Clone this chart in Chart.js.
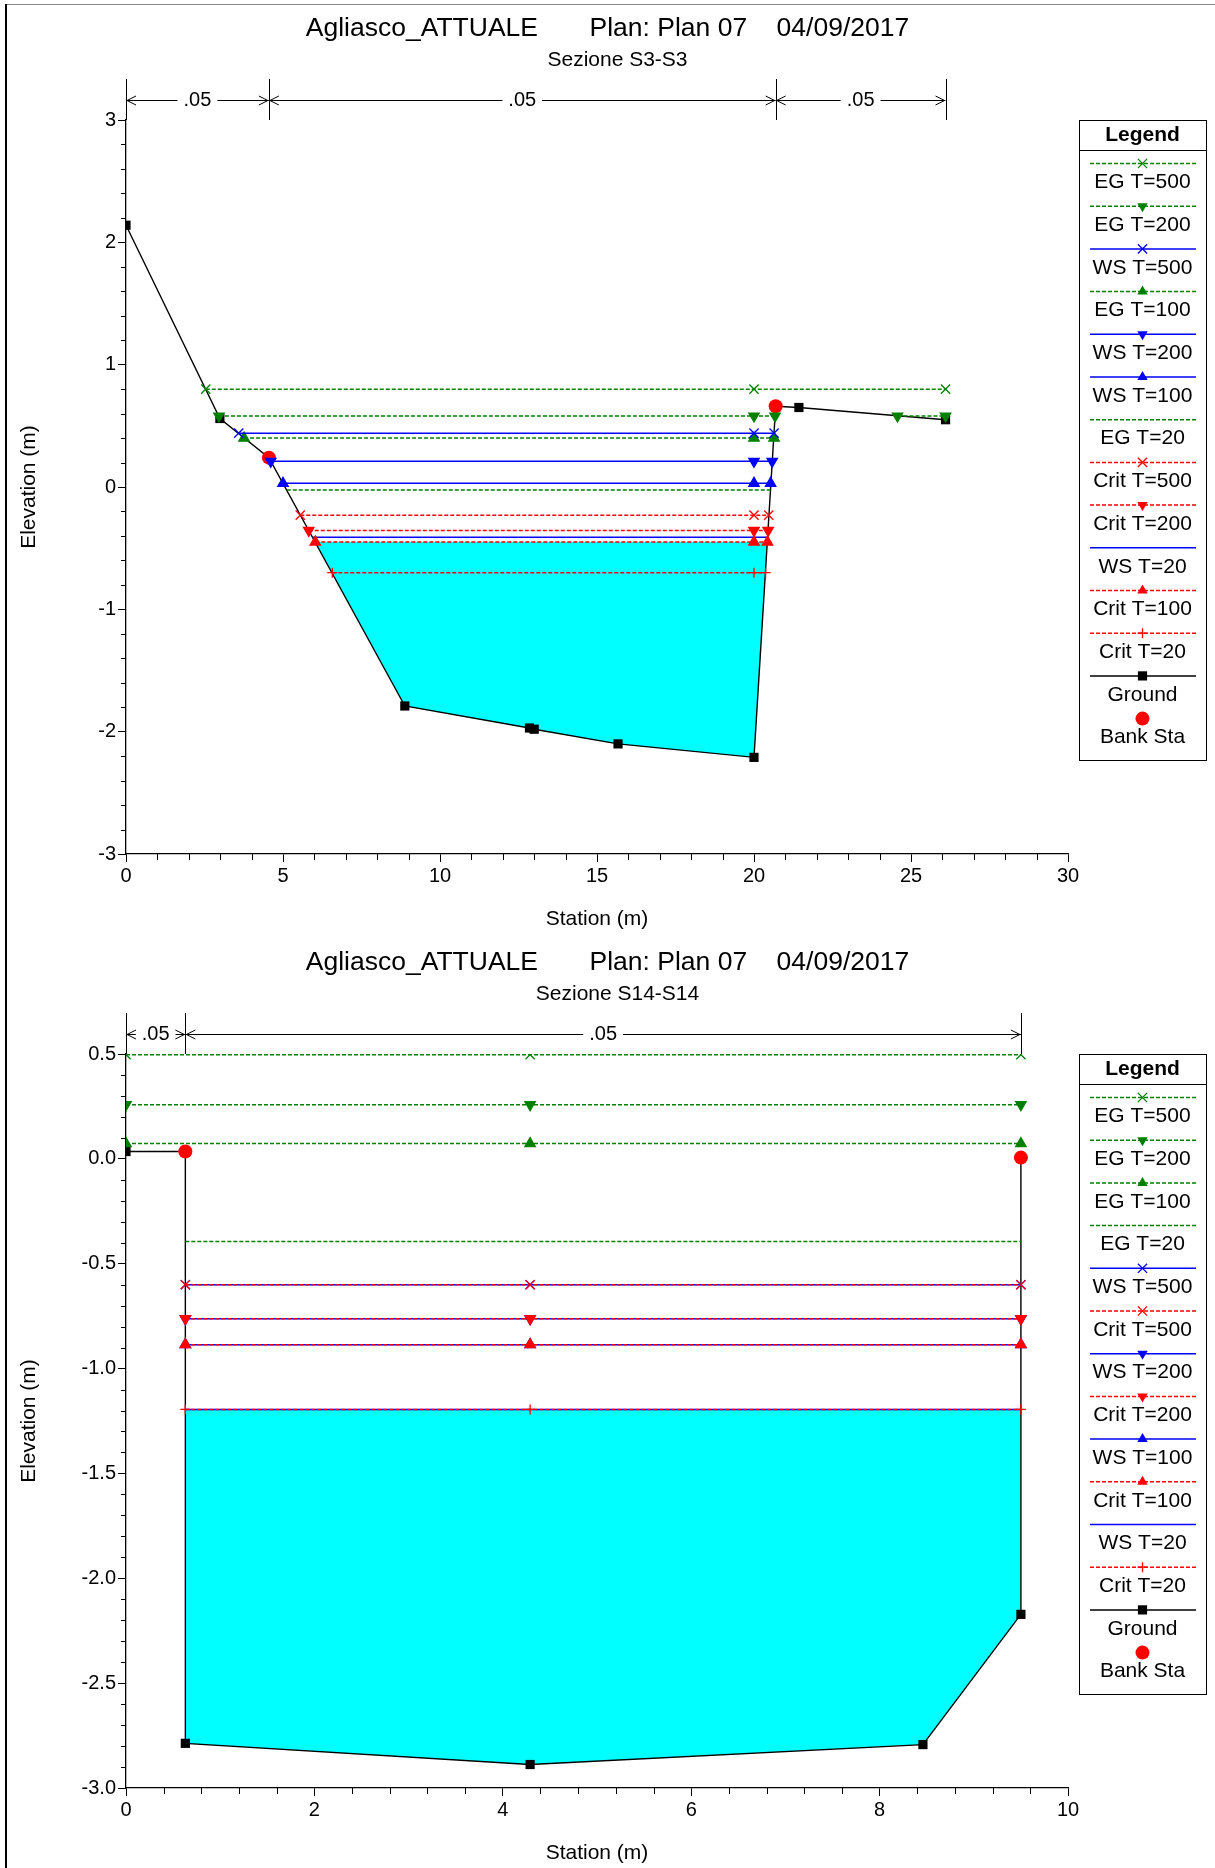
<!DOCTYPE html>
<html>
<head>
<meta charset="utf-8">
<title>Agliasco_ATTUALE - Sezioni S3-S3 e S14-S14</title>
<script src="https://cdn.jsdelivr.net/npm/chart.js@4.4.1/dist/chart.umd.min.js"></script>
<style>
  html, body { margin: 0; padding: 0; background: #fff; }
  body { width: 1215px; height: 1868px; position: relative; overflow: hidden; }
  .pane { position: absolute; left: 0; width: 1215px; height: 934px; }
  #paneTop { top: 0; }
  #paneBottom { top: 934px; }
  .edgeLeft { position: absolute; left: 5px; top: 4px; width: 2px; height: 1864px; background: #000; }
  .edgeTop { position: absolute; left: 5px; top: 4px; width: 1210px; height: 1px; background: #888; }
</style>
</head>
<body>
<div class="pane" id="paneTop"><canvas id="chartS3" width="1215" height="934"></canvas></div>
<div class="pane" id="paneBottom"><canvas id="chartS14" width="1215" height="934"></canvas></div>
<div class="edgeTop"></div>
<div class="edgeLeft"></div>
<script>
const TITLE = 'Agliasco_ATTUALE       Plan: Plan 07    04/09/2017';

// ---- Sezione S3-S3 ----
const S3_SUBTITLE = 'Sezione S3-S3';
const S3_X_TICKS = [0, 5, 10, 15, 20, 25, 30];
const S3_Y_TICKS = [-3, -2, -1, 0, 1, 2, 3];
const S3_X_MINOR = 1;
const S3_Y_MINOR = 0.2;
const S3_GROUND_STA = [0, 2.99, 4.55, 8.88, 12.85, 13.0, 15.67, 20.0, 20.69, 21.43, 26.1];
const S3_GROUND_ELEV = [2.14, 0.56, 0.24, -1.79, -1.97, -1.98, -2.10, -2.21, 0.66, 0.65, 0.55];
const S3_BANK_STA = [4.55, 20.69];
const S3_BANK_ELEV = [0.24, 0.66];
const S3_N_STA = [0, 4.55, 20.69, 26.1];
const S3_N_VAL = ['.05', '.05', '.05'];
const S3_PROFILES = ['EG T=500', 'EG T=200', 'WS T=500', 'EG T=100', 'WS T=200', 'WS T=100',
  'EG T=20', 'Crit T=500', 'Crit T=200', 'WS T=20', 'Crit T=100', 'Crit T=20'];
const S3_PROFILE_ELEV = [0.80, 0.58, 0.44, 0.40, 0.21, 0.03, -0.025, -0.23, -0.355, -0.41, -0.45, -0.70];
const S3_PROFILE_REACH = [
  [[2.54, 26.1]], [[2.96, 20.67], [24.57, 26.1]], [[3.59, 20.64]], [[3.76, 20.64]],
  [[4.61, 20.58]], [[5.0, 20.53]], [[5.12, 20.52]], [[5.55, 20.47]],
  [[5.82, 20.45]], [[5.94, 20.43]], [[6.03, 20.43]], [[6.57, 20.37]]
];
const S3_MARKER_STA = 20.0;
const S3_WATER_LEVEL = -0.45;
const S3_WATER_STA = [6.03, 8.88, 12.85, 13.0, 15.67, 20.0, 20.43];
const S3_WATER_ELEV = [-0.45, -1.79, -1.97, -1.98, -2.10, -2.21, -0.45];

// ---- Sezione S14-S14 ----
const S14_SUBTITLE = 'Sezione S14-S14';
const S14_X_TICKS = [0, 2, 4, 6, 8, 10];
const S14_Y_TICKS = [-3.0, -2.5, -2.0, -1.5, -1.0, -0.5, 0.0, 0.5];
const S14_X_MINOR = 0.4;
const S14_Y_MINOR = 0.1;
const S14_GROUND_STA = [0, 0.63, 0.63, 4.29, 8.46, 9.5, 9.5];
const S14_GROUND_ELEV = [0.035, 0.035, -2.787, -2.888, -2.793, -2.172, 0.006];
const S14_BANK_STA = [0.63, 9.5];
const S14_BANK_ELEV = [0.035, 0.006];
const S14_N_STA = [0, 0.63, 9.5];
const S14_N_VAL = ['.05', '.05'];
const S14_PROFILES = ['EG T=500', 'EG T=200', 'EG T=100', 'EG T=20', 'WS T=500', 'Crit T=500',
  'WS T=200', 'Crit T=200', 'WS T=100', 'Crit T=100', 'WS T=20', 'Crit T=20'];
const S14_PROFILE_ELEV = [0.497, 0.258, 0.073, -0.394, -0.60, -0.60, -0.762, -0.762, -0.886, -0.886, -1.195, -1.195];
const S14_PROFILE_REACH = [
  [[0, 9.5]], [[0, 9.5]], [[0, 9.5]], [[0.63, 9.5]], [[0.63, 9.5]], [[0.63, 9.5]],
  [[0.63, 9.5]], [[0.63, 9.5]], [[0.63, 9.5]], [[0.63, 9.5]], [[0.63, 9.5]], [[0.63, 9.5]]
];
const S14_MARKER_STA = 4.29;
const S14_WATER_LEVEL = -1.195;
const S14_WATER_STA = [0.63, 0.63, 4.29, 8.46, 9.5, 9.5];
const S14_WATER_ELEV = [-1.195, -2.787, -2.888, -2.793, -2.172, -1.195];

const FONT = "'Liberation Sans', Arial, Helvetica, sans-serif";
const GREEN = '#008000';
const BLUE = '#0000FF';
const RED = '#FF0000';
const CYAN = '#00FFFF';

function pairs(xs, ys) {
  return xs.map((x, i) => ({ x, y: ys[i] }));
}

function profileStyle(name) {
  const [kind, period] = name.split(' T=');
  const color = kind === 'EG' ? GREEN : kind === 'WS' ? BLUE : RED;
  const dash = kind === 'WS' ? [] : [4, 2];
  let marker = null;
  let rotation = 0;
  let radius = 0;
  if (period === '500') { marker = 'crossRot'; radius = 6.5; }
  else if (period === '200') { marker = 'triangle'; rotation = 180; radius = 6; }
  else if (period === '100') { marker = 'triangle'; radius = 6; }
  else if (kind === 'Crit') { marker = 'cross'; radius = 5; }
  return { kind, color, dash, marker, rotation, radius };
}

function profilePoints(elev, reaches, midSta) {
  const pts = [];
  reaches.forEach(([a, b], k) => {
    if (k > 0) pts.push({ x: (pts[pts.length - 1].x + a) / 2, y: null });
    pts.push({ x: a, y: elev });
    if (midSta > a && midSta < b) pts.push({ x: midSta, y: elev });
    pts.push({ x: b, y: elev });
  });
  return pts;
}

function buildDatasets(sec) {
  const rank = { Crit: 0, WS: 1, EG: 2 };
  const profiles = sec.profiles.map((name, i) => {
    const st = profileStyle(name);
    return {
      label: name,
      data: profilePoints(sec.profileElev[i], sec.reach[i], sec.markerSta),
      borderColor: st.color,
      backgroundColor: st.color,
      borderWidth: 1.5,
      borderDash: st.dash,
      pointStyle: st.marker || 'circle',
      pointRadius: st.marker ? st.radius : 0,
      pointRotation: st.rotation,
      pointBorderWidth: 1.3,
      pointBackgroundColor: st.color,
      pointBorderColor: st.color,
      fill: false,
      _rank: rank[st.kind],
    };
  }).sort((a, b) => a._rank - b._rank);

  return [
    ...profiles,
    {
      label: 'Bank Sta',
      data: pairs(sec.bankSta, sec.bankElev),
      showLine: false,
      pointStyle: 'circle',
      pointRadius: 7,
      pointBackgroundColor: RED,
      pointBorderColor: RED,
      pointBorderWidth: 0,
    },
    {
      label: 'Ground',
      data: pairs(sec.groundSta, sec.groundElev),
      borderColor: '#000',
      borderWidth: 1.4,
      pointStyle: 'rect',
      pointRadius: 6.5,
      pointBackgroundColor: '#000',
      pointBorderColor: '#000',
      pointBorderWidth: 0,
      fill: false,
    },
    {
      label: 'water',
      data: pairs(sec.waterSta, sec.waterElev),
      borderWidth: 0,
      borderColor: 'rgba(0,0,0,0)',
      pointRadius: 0,
      backgroundColor: CYAN,
      fill: { value: sec.waterLevel },
    },
  ];
}

// piccoli simboli della legenda (stessa geometria dei marker di Chart.js)
function drawMarker(ctx, style, x, y, r, rotation, color) {
  ctx.save();
  ctx.fillStyle = color;
  ctx.strokeStyle = color;
  ctx.lineWidth = 1.3;
  ctx.setLineDash([]);
  ctx.beginPath();
  if (style === 'crossRot') {
    const d = r * Math.SQRT1_2;
    ctx.moveTo(x - d, y - d); ctx.lineTo(x + d, y + d);
    ctx.moveTo(x + d, y - d); ctx.lineTo(x - d, y + d);
    ctx.stroke();
  } else if (style === 'cross') {
    ctx.moveTo(x - r, y); ctx.lineTo(x + r, y);
    ctx.moveTo(x, y - r); ctx.lineTo(x, y + r);
    ctx.stroke();
  } else if (style === 'triangle') {
    let rad = rotation * Math.PI / 180;
    for (let k = 0; k < 3; k++) {
      const px = x + Math.sin(rad) * r;
      const py = y - Math.cos(rad) * r;
      if (k === 0) ctx.moveTo(px, py); else ctx.lineTo(px, py);
      rad += 2 * Math.PI / 3;
    }
    ctx.closePath();
    ctx.fill();
  } else if (style === 'rect') {
    const s = r * Math.SQRT1_2;
    ctx.fillRect(x - s, y - s, 2 * s, 2 * s);
  } else if (style === 'circle') {
    ctx.arc(x, y, r, 0, Math.PI * 2);
    ctx.fill();
  }
  ctx.restore();
}

const hecDecor = {
  id: 'hecDecor',
  afterDraw(chart, args, opts) {
    const { ctx, chartArea: area } = chart;
    const xs = chart.scales.x;
    const ys = chart.scales.y;
    ctx.save();

    // titolo
    ctx.fillStyle = '#000';
    ctx.textAlign = 'center';
    ctx.textBaseline = 'middle';
    ctx.font = `26.5px ${FONT}`;
    ctx.fillText(opts.title, chart.width / 2, 29);
    ctx.font = `21px ${FONT}`;
    ctx.fillText(opts.subtitle, chart.width / 2 + 10, 60);

    // tacche secondarie
    ctx.strokeStyle = '#000';
    ctx.lineWidth = 1;
    const minor = (scale, step, major, draw) => {
      const n = Math.round((scale.max - scale.min) / step);
      for (let i = 0; i <= n; i++) {
        const v = scale.min + i * step;
        const q = v / major;
        if (Math.abs(q - Math.round(q)) < 1e-6) continue;
        draw(Math.round(scale.getPixelForValue(v)) + 0.5);
      }
    };
    ctx.beginPath();
    minor(xs, opts.xMinor, opts.xMajor, (p) => { ctx.moveTo(p, area.bottom); ctx.lineTo(p, area.bottom + 6); });
    minor(ys, opts.yMinor, opts.yMajor, (p) => { ctx.moveTo(area.left, p); ctx.lineTo(area.left - 5, p); });
    ctx.stroke();

    // coefficienti di Manning
    const nY = 100;
    ctx.beginPath();
    opts.nSta.forEach((s) => {
      const p = Math.round(xs.getPixelForValue(s)) + 0.5;
      ctx.moveTo(p, 79); ctx.lineTo(p, area.top);
    });
    ctx.stroke();
    ctx.font = `20px ${FONT}`;
    opts.nVal.forEach((label, i) => {
      const a = xs.getPixelForValue(opts.nSta[i]);
      const b = xs.getPixelForValue(opts.nSta[i + 1]);
      const c = (a + b) / 2;
      const w = ctx.measureText(label).width;
      ctx.fillStyle = '#000';
      ctx.fillText(label, c, nY);
      ctx.beginPath();
      const l1 = c - w / 2 - 6;
      const r1 = c + w / 2 + 6;
      if (l1 > a + 2) { ctx.moveTo(a, nY + 0.5); ctx.lineTo(l1, nY + 0.5); }
      if (r1 < b - 2) { ctx.moveTo(r1, nY + 0.5); ctx.lineTo(b, nY + 0.5); }
      // punte di freccia aperte verso i limiti
      ctx.moveTo(a + 10, nY - 4); ctx.lineTo(a + 1, nY + 0.5); ctx.lineTo(a + 10, nY + 5);
      ctx.moveTo(b - 10, nY - 4); ctx.lineTo(b - 1, nY + 0.5); ctx.lineTo(b - 10, nY + 5);
      ctx.stroke();
    });

    // legenda
    const lx = area.right + 11;
    const lw = 127;
    const ly = area.top;
    const lh = 640;
    ctx.lineWidth = 1;
    ctx.strokeStyle = '#000';
    ctx.strokeRect(Math.round(lx) + 0.5, Math.round(ly) + 0.5, lw, lh);
    ctx.beginPath();
    ctx.moveTo(lx, ly + 30.5); ctx.lineTo(lx + lw, ly + 30.5);
    ctx.stroke();
    ctx.fillStyle = '#000';
    ctx.font = `bold 21px ${FONT}`;
    ctx.fillText('Legend', lx + lw / 2, ly + 15);
    ctx.font = `21px ${FONT}`;
    const items = opts.profiles.map((name) => ({ name, ...profileStyle(name), line: true }));
    items.push({ name: 'Ground', color: '#000', dash: [], marker: 'rect', radius: 6.5, rotation: 0, line: true });
    items.push({ name: 'Bank Sta', color: RED, dash: [], marker: 'circle', radius: 7, rotation: 0, line: false });
    items.forEach((it, i) => {
      const y = ly + 43.5 + i * 42.7;
      const cx = lx + lw / 2;
      if (it.line) {
        ctx.save();
        ctx.strokeStyle = it.color;
        ctx.lineWidth = 1.5;
        ctx.setLineDash(it.dash);
        ctx.beginPath();
        ctx.moveTo(lx + 11, y); ctx.lineTo(lx + lw - 10, y);
        ctx.stroke();
        ctx.restore();
      }
      if (it.marker) drawMarker(ctx, it.marker, cx, y, it.radius, it.rotation, it.color);
      ctx.fillStyle = '#000';
      ctx.fillText(it.name, cx, y + 19);
    });
    ctx.restore();
  },
};

function makeChart(canvasId, sec) {
  const xStep = sec.xTicks[1] - sec.xTicks[0];
  const yStep = sec.yTicks[1] - sec.yTicks[0];
  const tickFont = { family: FONT, size: 20 };
  const titleFont = { family: FONT, size: 21, lineHeight: 1.2 };
  return new Chart(document.getElementById(canvasId), {
    type: 'line',
    data: { datasets: buildDatasets(sec) },
    options: {
      responsive: false,
      devicePixelRatio: 1,
      animation: false,
      events: [],
      layout: { padding: { top: 120, right: 147, left: 0, bottom: 0 } },
      plugins: {
        legend: { display: false },
        tooltip: { enabled: false },
        title: { display: false },
        hecDecor: {
          title: TITLE,
          subtitle: sec.subtitle,
          profiles: sec.profiles,
          nSta: sec.nSta,
          nVal: sec.nVal,
          xMinor: sec.xMinor,
          yMinor: sec.yMinor,
          xMajor: xStep,
          yMajor: yStep,
        },
      },
      scales: {
        x: {
          type: 'linear',
          min: sec.xTicks[0],
          max: sec.xTicks[sec.xTicks.length - 1],
          afterFit: (s) => { s.height = 80; },
          ticks: { stepSize: xStep, font: tickFont, color: '#000', padding: 2, maxRotation: 0 },
          grid: { drawOnChartArea: false, drawTicks: true, tickLength: 8, color: '#000', lineWidth: 1 },
          border: { display: true, color: '#000', width: 1.3 },
          title: { display: true, text: 'Station (m)', font: titleFont, color: '#000', padding: { top: 0, bottom: 2 } },
        },
        y: {
          type: 'linear',
          min: sec.yTicks[0],
          max: sec.yTicks[sec.yTicks.length - 1],
          afterFit: (s) => { s.width = 126; },
          ticks: {
            stepSize: yStep,
            font: tickFont,
            color: '#000',
            padding: 2,
            callback: (v) => (sec.yDecimals ? Number(v).toFixed(sec.yDecimals) : String(Math.round(v))),
          },
          grid: { drawOnChartArea: false, drawTicks: true, tickLength: 8, color: '#000', lineWidth: 1 },
          border: { display: true, color: '#000', width: 1.3 },
          title: { display: true, text: 'Elevation (m)', font: titleFont, color: '#000', padding: { top: 17, bottom: 0 } },
        },
      },
      elements: { line: { tension: 0 } },
    },
    plugins: [hecDecor],
  });
}

window.addEventListener('DOMContentLoaded', () => {
  makeChart('chartS3', {
    subtitle: S3_SUBTITLE,
    xTicks: S3_X_TICKS, yTicks: S3_Y_TICKS, xMinor: S3_X_MINOR, yMinor: S3_Y_MINOR, yDecimals: 0,
    groundSta: S3_GROUND_STA, groundElev: S3_GROUND_ELEV,
    bankSta: S3_BANK_STA, bankElev: S3_BANK_ELEV,
    nSta: S3_N_STA, nVal: S3_N_VAL,
    profiles: S3_PROFILES, profileElev: S3_PROFILE_ELEV, reach: S3_PROFILE_REACH, markerSta: S3_MARKER_STA,
    waterLevel: S3_WATER_LEVEL, waterSta: S3_WATER_STA, waterElev: S3_WATER_ELEV,
  });
  makeChart('chartS14', {
    subtitle: S14_SUBTITLE,
    xTicks: S14_X_TICKS, yTicks: S14_Y_TICKS, xMinor: S14_X_MINOR, yMinor: S14_Y_MINOR, yDecimals: 1,
    groundSta: S14_GROUND_STA, groundElev: S14_GROUND_ELEV,
    bankSta: S14_BANK_STA, bankElev: S14_BANK_ELEV,
    nSta: S14_N_STA, nVal: S14_N_VAL,
    profiles: S14_PROFILES, profileElev: S14_PROFILE_ELEV, reach: S14_PROFILE_REACH, markerSta: S14_MARKER_STA,
    waterLevel: S14_WATER_LEVEL, waterSta: S14_WATER_STA, waterElev: S14_WATER_ELEV,
  });
});
</script>
</body>
</html>
